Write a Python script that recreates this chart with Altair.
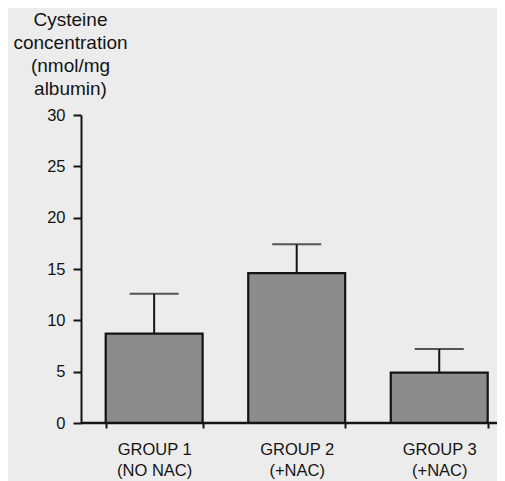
import altair as alt
import pandas as pd

# ---- data ----
groups = ["GROUP 1|(NO NAC)", "GROUP 2|(+NAC)", "GROUP 3|(+NAC)"]
means = [8.7, 14.6, 4.9]
upper = [12.6, 17.4, 7.2]
y_ticks = [0, 2.5, 5, 7.5, 10, 12.5, 15, 17.5, 20, 22.5, 25, 27.5, 30]
y_title = ["Cysteine", "concentration", "(nmol/mg", "albumin)"]

df = pd.DataFrame({"group": groups, "mean": means, "upper": upper})

FONT = "Liberation Sans"
INK = "#141414"
W, H = 416, 308

x_enc = alt.X(
    "group:N",
    sort=groups,
    scale=alt.Scale(range=[15.4, W], paddingInner=0.32, paddingOuter=0.0652),
    axis=alt.Axis(
        title=None,
        labelAngle=0,
        labelExpr="split(datum.label, '|')",
        labelFont=FONT,
        labelFontSize=16.5,
        labelColor=INK,
        labelLineHeight=21,
        labelBaseline="top",
        labelPadding=13,
        tickBand="extent",
        domain=False,
        ticks=True,
        tickSize=5,
        tickWidth=2,
        tickColor=INK,
    ),
)

y_enc = alt.Y(
    "mean:Q",
    scale=alt.Scale(domain=[0, 30], nice=False, zero=True),
    axis=alt.Axis(
        values=y_ticks,
        labelExpr="datum.value % 5 == 0 ? datum.label : ''",
        labelFont=FONT,
        labelFontSize=16.5,
        labelColor=INK,
        labelPadding=8,
        tickSize={"condition": {"test": "datum.value % 5 === 0", "value": 8}, "value": 4},
        tickWidth=2,
        tickColor=INK,
        domainWidth=2,
        domainColor=INK,
        grid=False,
        title=y_title,
        titleAngle=0,
        titleAlign="center",
        titleBaseline="alphabetic",
        titleX=-11,
        titleY=-90,
        titleLineHeight=23,
        titleFont=FONT,
        titleFontSize=19,
        titleFontWeight="normal",
        titleColor=INK,
    ),
)

base = alt.Chart(df)

bars = base.mark_bar(fill="#8c8c8c", stroke=INK, strokeWidth=2.2).encode(x=x_enc, y=y_enc)

err = base.mark_rule(color=INK, strokeWidth=2).encode(
    x=alt.X("group:N", sort=groups),
    y=alt.Y("mean:Q"),
    y2="upper:Q",
)

caps = base.mark_tick(color=INK, thickness=2, size=49).encode(
    x=alt.X("group:N", sort=groups),
    y=alt.Y("upper:Q"),
)

baseline = alt.Chart(alt.Data(values=[{}])).mark_rule(color=INK, strokeWidth=2.5).encode(
    x=alt.value(0), x2=alt.value(W), y=alt.value(H)
)

chart = (
    alt.layer(bars, err, caps, baseline)
    .properties(
        width=W,
        height=H,
        autosize=alt.AutoSizeParams(type="none"),
        padding={"left": 73, "top": 107, "right": 0, "bottom": 58},
        background="#ececec",
    )
    .configure_view(stroke=None)
)

chart.save("out.html", embed_options={"renderer": "svg", "actions": False})
